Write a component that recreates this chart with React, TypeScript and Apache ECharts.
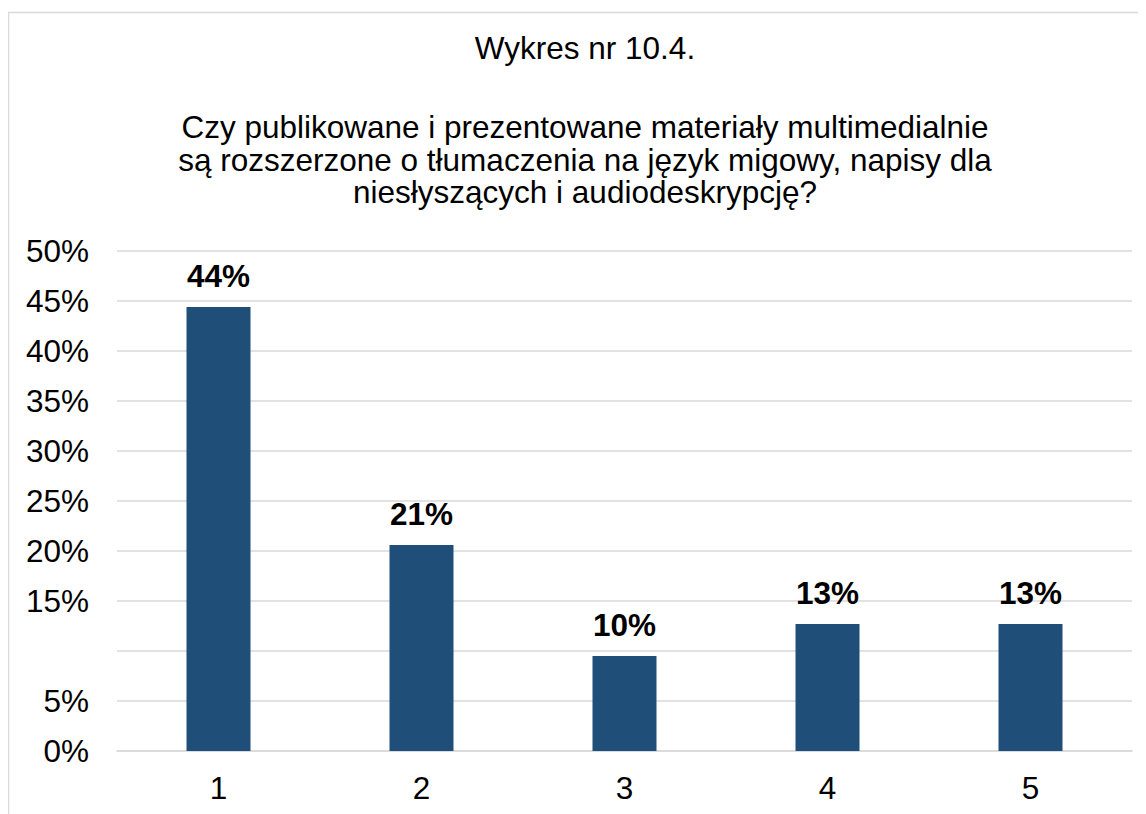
import React, { useEffect, useRef } from "react";
import * as echarts from "echarts";

const categories = ["1", "2", "3", "4", "5"];
const values = [44.4, 20.6, 9.5, 12.7, 12.7];
const valueLabels = ["44%", "21%", "10%", "13%", "13%"];
const hiddenTicks = [10];
const chartTitle = "Wykres nr 10.4.";
const chartQuestion =
  "Czy publikowane i prezentowane materiały multimedialnie\nsą rozszerzone o tłumaczenia na język migowy, napisy dla\nniesłyszących i audiodeskrypcję?";

const FONT = "'Liberation Sans', Arial, sans-serif";
const FS = 31.5;

export default function App() {
  const ref = useRef<HTMLDivElement>(null);
  useEffect(() => {
    if (!ref.current) return;
    const chart = echarts.init(ref.current, null, { renderer: "svg" });
    chart.setOption({
      animation: false,
      backgroundColor: "#ffffff",
      textStyle: { fontFamily: FONT },
      graphic: [
        {
          type: "rect",
          shape: { x: 0.5, y: 4.5, width: 3000, height: 3000 },
          style: { fill: "none", stroke: "#d9d9d9", lineWidth: 1.5 },
          silent: true,
        },
      ],
      title: [
        {
          text: chartTitle,
          left: 572,
          top: 18,
          textAlign: "center",
          textStyle: { fontFamily: FONT, fontSize: FS, fontWeight: "normal", color: "#000", lineHeight: 33 },
        },
        {
          text: chartQuestion,
          left: 572,
          top: 98,
          textAlign: "center",
          textStyle: { fontFamily: FONT, fontSize: FS, fontWeight: "normal", color: "#000", lineHeight: 32.5 },
        },
      ],
      grid: { left: 109, right: 14, top: 243, bottom: 63, containLabel: false },
      xAxis: {
        type: "category",
        data: categories,
        axisLine: { show: true, lineStyle: { color: "#d9d9d9", width: 1.5 } },
        axisTick: { show: false },
        axisLabel: { fontFamily: FONT, fontSize: FS, color: "#000", margin: 21 },
      },
      yAxis: {
        type: "value",
        min: 0,
        max: 50,
        interval: 5,
        axisLine: { show: false },
        axisTick: { show: false },
        splitLine: { lineStyle: { color: "#d9d9d9", width: 1.5 } },
        axisLabel: {
          fontFamily: FONT,
          fontSize: FS,
          color: "#000",
          margin: 28,
          formatter: (v: number) => (hiddenTicks.includes(v) ? "" : v + "%"),
        },
      },
      series: [
        {
          type: "bar",
          data: values,
          barWidth: 64,
          itemStyle: { color: "#1F4E79" },
          label: {
            show: true,
            position: "top",
            distance: 15,
            fontFamily: FONT,
            fontSize: FS,
            fontWeight: "bold",
            color: "#000",
            formatter: (p: any) => valueLabels[p.dataIndex],
          },
        },
      ],
    });
    return () => chart.dispose();
  }, []);
  return <div ref={ref} style={{ width: 1138, height: 806 }} />;
}
